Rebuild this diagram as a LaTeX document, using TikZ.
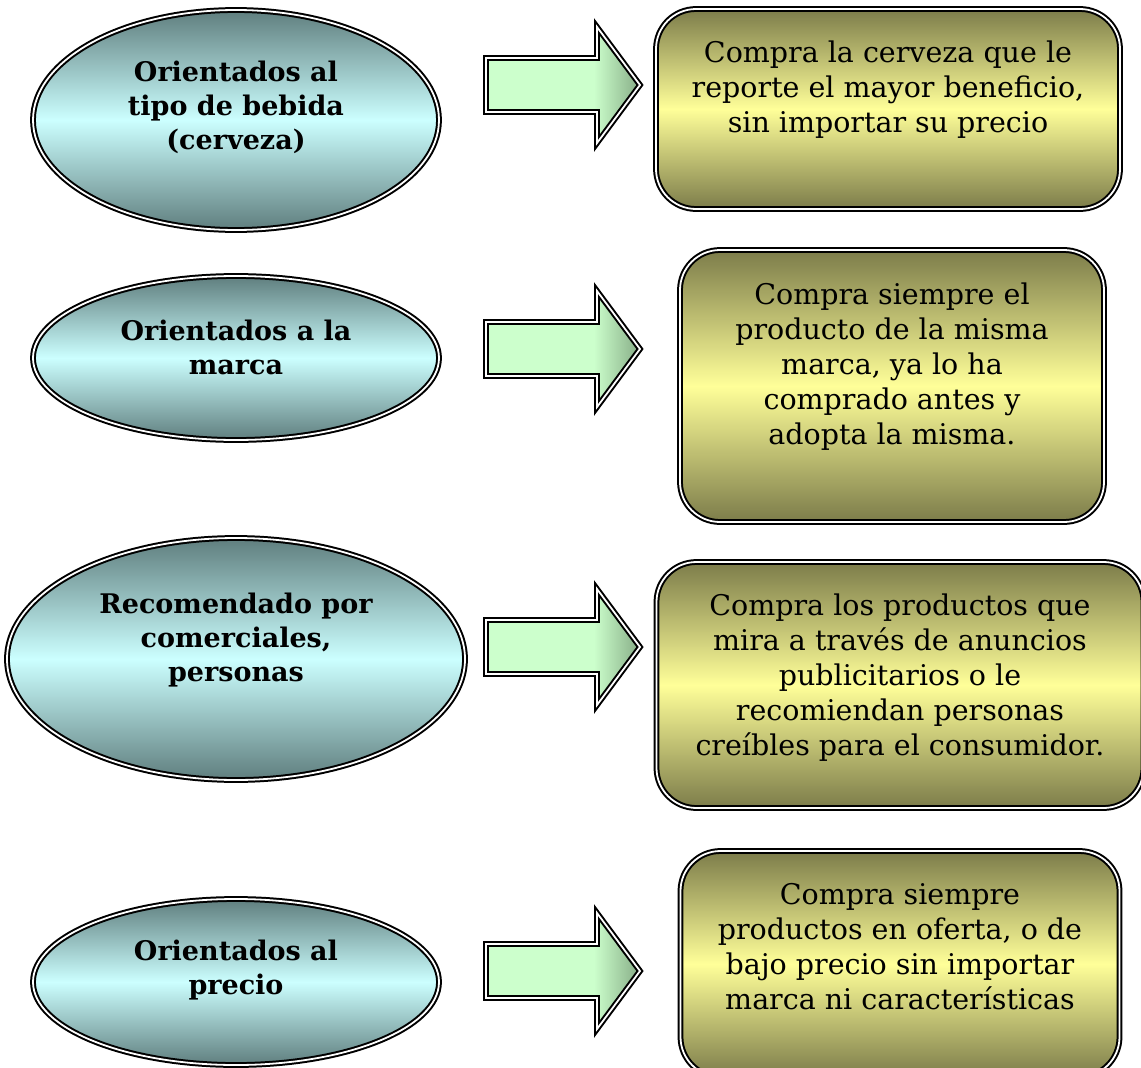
\documentclass[tikz,border=0pt]{standalone}
\usepackage{fontspec}
\setmainfont{DejaVu Serif}
\usetikzlibrary{shapes.geometric}
\definecolor{ovaldark}{HTML}{5F7E7E}
\definecolor{ovallight}{HTML}{CCFFFF}
\definecolor{boxdark}{HTML}{7C7C4A}
\definecolor{boxlight}{HTML}{FFFF99}
\definecolor{arrlight}{HTML}{CCFFCC}
\definecolor{arrdark}{HTML}{86AC86}
\pgfdeclarehorizontalshading{arrowshade}{100bp}{color(0bp)=(arrlight); color(25bp)=(arrlight); color(60bp)=(arrlight); color(75bp)=(arrdark); color(100bp)=(arrdark)}
\begin{document}
\begin{tikzpicture}[x=1pt,y=-1pt,
  frame/.style={draw=black, double=white, double distance=1.8pt, line width=2pt},
  oval/.style={ellipse, frame, top color=ovaldark, bottom color=ovaldark, middle color=ovallight, inner sep=0pt},
  ovaltext/.style={font=\bfseries\fontsize{27}{34}\selectfont, align=center, inner sep=0pt},
  card/.style={rectangle, rounded corners=40pt, frame, top color=boxdark, bottom color=boxdark, middle color=boxlight, inner sep=0pt},
  cardtext/.style={font=\fontsize{28.5}{35}\selectfont, align=center, inner sep=0pt},
  arrowbody/.style={frame, shading=arrowshade, line join=miter, miter limit=10},
  pics/blockarrow/.style={code={
    \path[arrowbody] (-77,-27) -- (34,-27) -- (34,-58) -- (77,0) -- (34,58) -- (34,27) -- (-77,27) -- cycle;}}
]
\useasboundingbox (0,0) rectangle (1141,1068);
\clip (0,0) rectangle (1141,1068);

% ovals
\node[oval, minimum width=406pt, minimum height=220pt] (e1) at (236,120) {};
\node[oval, minimum width=406pt, minimum height=164pt] (e2) at (236,358) {};
\node[oval, minimum width=458pt, minimum height=242pt] (e3) at (236,659) {};
\node[oval, minimum width=406pt, minimum height=166pt] (e4) at (236,982) {};

\node[ovaltext] (t1) at ([yshift=13pt]e1.center) {Orientados al\\tipo de bebida\\(cerveza)};
\node[ovaltext] (t2) at ([yshift=11pt]e2.center) {Orientados a la\\marca};
\node[ovaltext] (t3) at ([yshift=19pt]e3.center) {Recomendado por\\comerciales,\\personas};
\node[ovaltext] (t4) at ([yshift=12pt]e4.center) {Orientados al\\precio};

% arrows
\pic at (563,85) {blockarrow};
\pic at (563,349) {blockarrow};
\pic at (563,647) {blockarrow};
\pic at (563,971) {blockarrow};

% cards
\node[card, minimum width=464pt, minimum height=200pt] (b1) at (888,109) {};
\node[card, minimum width=424pt, minimum height=272pt] (b2) at (892,386) {};
\node[card, minimum width=487pt, minimum height=246pt] (b3) at (900,685) {};
\node[card, minimum width=439pt, minimum height=226pt] (b4) at (900,964) {};

\node[cardtext] (c1) at ([yshift=19pt]b1.center) {Compra la cerveza que le\\reporte el mayor beneficio,\\sin importar su precio};
\node[cardtext] (c2) at ([yshift=19pt]b2.center) {Compra siempre el\\producto de la misma\\marca, ya lo ha\\comprado antes y\\adopta la misma.};
\node[cardtext] (c3) at ([yshift=7pt]b3.center) {Compra los productos que\\mira a través de anuncios\\publicitarios o le\\recomiendan personas\\creíbles para el consumidor.};
\node[cardtext] (c4) at ([yshift=17pt]b4.center) {Compra siempre\\productos en oferta, o de\\bajo precio sin importar\\marca ni características};
\end{tikzpicture}
\end{document}
